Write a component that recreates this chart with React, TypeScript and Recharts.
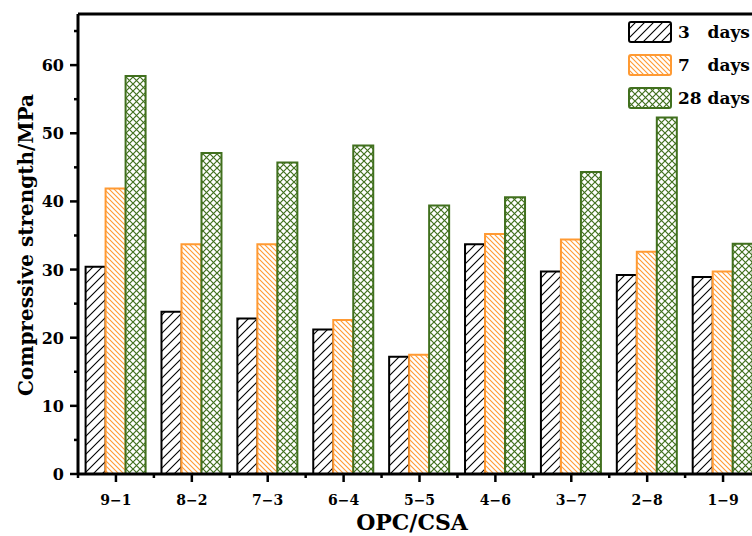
import React from 'react';
import { BarChart, Bar, XAxis, YAxis, ReferenceLine, Label } from 'recharts';

const categories = ['9−1', '8−2', '7−3', '6−4', '5−5', '4−6', '3−7', '2−8', '1−9'];
const day3 = [30.4, 23.8, 22.8, 21.2, 17.2, 33.7, 29.7, 29.2, 28.9];
const day7 = [41.9, 33.7, 33.7, 22.6, 17.5, 35.2, 34.4, 32.6, 29.7];
const day28 = [58.4, 47.1, 45.7, 48.2, 39.4, 40.6, 44.3, 52.3, 33.8];
const yTicks = [0, 5, 10, 15, 20, 25, 30, 35, 40, 45, 50, 55, 60, 65];
const yMax = 67.5;

const legendItems = [
    { label: '3   days', fill: 'url(#hatch3)', stroke: '#000000' },
    { label: '7   days', fill: 'url(#hatch7)', stroke: '#FF9A33' },
    { label: '28 days', fill: 'url(#hatch28)', stroke: '#41701E' },
];

const data = categories.map((name, i) => ({ name, d3: day3[i], d7: day7[i], d28: day28[i] }));

const FONT = '"DejaVu Serif", serif';
const CHART_W = 800;
const CHART_H = 536;
const MARGIN = { top: 14, right: 39, left: 0, bottom: 0 };
const Y_W = 78;
const HALF_BAND = (CHART_W - MARGIN.right - Y_W) / categories.length / 2;

const YTick = (props: any) => {
    const { x, y, payload } = props;
    const major = payload.value % 10 === 0;
    return (
        <g>
            <line x1={x - (major ? 8 : 4)} x2={x} y1={y} y2={y} stroke="#000" strokeWidth={2.5} />
            {major && (
                <text x={x - 14} y={y + 6} textAnchor="end" fontFamily={FONT} fontWeight="bold" fontSize={16} fill="#000">
                    {payload.value}
                </text>
            )}
        </g>
    );
};

const XTick = (props: any) => {
    const { x, y, payload, index } = props;
    return (
        <g>
            <line x1={x} x2={x} y1={y} y2={y + 8} stroke="#000" strokeWidth={2.5} />
            <line x1={x - HALF_BAND} x2={x - HALF_BAND} y1={y} y2={y + 4} stroke="#000" strokeWidth={2.5} />
            {index === categories.length - 1 && (
                <line x1={x + HALF_BAND} x2={x + HALF_BAND} y1={y} y2={y + 4} stroke="#000" strokeWidth={2.5} />
            )}
            <text x={x} y={y + 31} textAnchor="middle" fontFamily={FONT} fontWeight="bold" fontSize={14} fill="#000">
                {payload.value}
            </text>
        </g>
    );
};

function ChartLegend() {
    return (
        <div style={{ position: 'absolute', top: 21, left: 628, display: 'flex', flexDirection: 'column', gap: 11 }}>
            {legendItems.map((item) => (
                <div key={item.label} style={{ display: 'flex', alignItems: 'center', height: 22 }}>
                    <svg width={44} height={22} style={{ display: 'block' }}>
                        <rect x={1} y={1} width={42} height={20} rx={2} fill={item.fill} stroke={item.stroke} strokeWidth={2} />
                    </svg>
                    <span
                        style={{
                            marginLeft: 6,
                            fontFamily: FONT,
                            fontWeight: 'bold',
                            fontSize: 17,
                            whiteSpace: 'pre',
                            color: '#000',
                            lineHeight: '22px',
                        }}
                    >
                        {item.label}
                    </span>
                </div>
            ))}
        </div>
    );
}

export default function App() {
    return (
        <div style={{ position: 'fixed', left: 0, top: 0, width: 752, height: 536, overflow: 'hidden', background: '#fff' }}>
            <svg width={0} height={0} style={{ position: 'absolute' }}>
                <defs>
                    <pattern id="hatch3" patternUnits="userSpaceOnUse" width={9} height={9}>
                        <rect width={9} height={9} fill="#fff" />
                        <path d="M-2,2 L2,-2 M0,9 L9,0 M7,11 L11,7" stroke="#000" strokeWidth={1.1} />
                    </pattern>
                    <pattern id="hatch7" patternUnits="userSpaceOnUse" width={5} height={5}>
                        <rect width={5} height={5} fill="#fff" />
                        <path d="M-1,4 L1,6 M0,0 L5,5 M4,-1 L6,1" stroke="#FF9A33" strokeWidth={1.1} />
                    </pattern>
                    <pattern id="hatch28" patternUnits="userSpaceOnUse" width={7} height={7}>
                        <rect width={7} height={7} fill="#fff" />
                        <path d="M0,0 L7,7 M0,7 L7,0" stroke="#41701E" strokeWidth={1.2} />
                    </pattern>
                </defs>
            </svg>
            <BarChart width={CHART_W} height={CHART_H} data={data} margin={MARGIN} barCategoryGap="10%" barGap={0}>
                <XAxis
                    dataKey="name"
                    height={62}
                    tickSize={0}
                    tickMargin={0}
                    tickLine={false}
                    axisLine={{ stroke: '#000', strokeWidth: 3 }}
                    tick={<XTick />}
                    interval={0}
                >
                    <Label
                        content={() => (
                            <text x={412} y={530} textAnchor="middle" fontFamily={FONT} fontWeight="bold" fontSize={22} fill="#000">
                                OPC/CSA
                            </text>
                        )}
                    />
                </XAxis>
                <YAxis
                    width={Y_W}
                    domain={[0, yMax]}
                    ticks={yTicks}
                    interval={0}
                    tickSize={0}
                    tickMargin={0}
                    tickLine={false}
                    axisLine={{ stroke: '#000', strokeWidth: 3 }}
                    tick={<YTick />}
                    allowDataOverflow
                >
                    <Label
                        content={() => (
                            <text
                                transform="translate(33,245) rotate(-90)"
                                textAnchor="middle"
                                fontFamily={FONT}
                                fontWeight="bold"
                                fontSize={20}
                                fill="#000"
                            >
                                Compressive strength/MPa
                            </text>
                        )}
                    />
                </YAxis>
                <ReferenceLine y={yMax} stroke="#000" strokeWidth={3} />
                <Bar dataKey="d3" fill="url(#hatch3)" stroke="#000000" strokeWidth={2} isAnimationActive={false} />
                <Bar dataKey="d7" fill="url(#hatch7)" stroke="#FF9A33" strokeWidth={2} isAnimationActive={false} />
                <Bar dataKey="d28" fill="url(#hatch28)" stroke="#41701E" strokeWidth={2} isAnimationActive={false} />
            </BarChart>
            <ChartLegend />
        </div>
    );
}
